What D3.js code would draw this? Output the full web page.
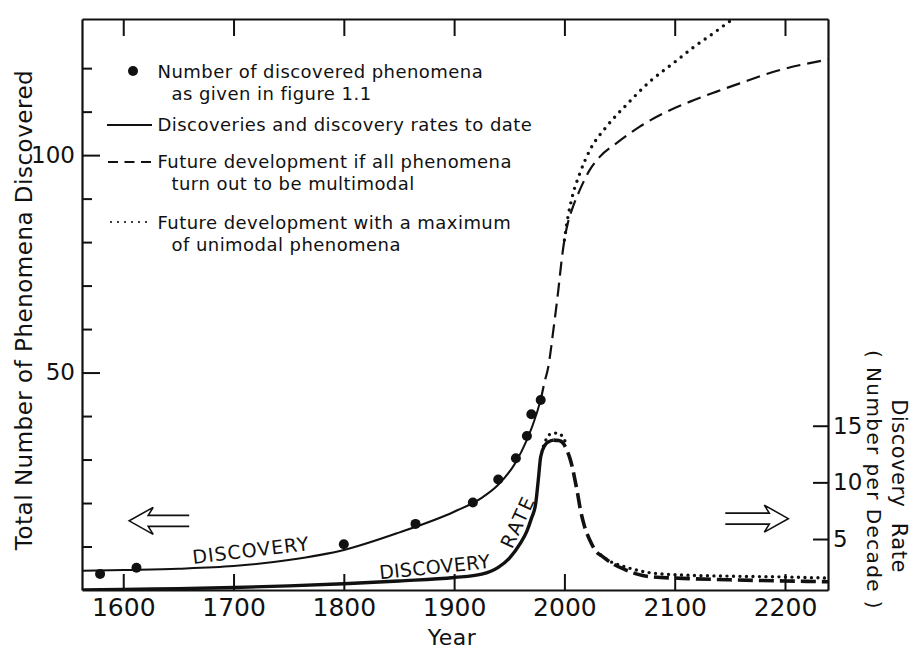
<!DOCTYPE html>
<html>
<head>
<meta charset="utf-8">
<script src="https://cdn.jsdelivr.net/npm/d3@7"></script>
<style>
  html, body { margin: 0; padding: 0; background: #fff; }
  svg { display: block; font-family: "DejaVu Sans", sans-serif; }
  .axis path, .axis line { stroke: #111; }
  .axis text { fill: #111; font-family: "DejaVu Sans", sans-serif; }
</style>
</head>
<body>
<svg id="chart" width="913" height="650"></svg>
<script>
// ---------- tick values ----------
const yearTicks  = [1600, 1700, 1800, 1900, 2000, 2100, 2200];
const countTicks = [10, 20, 30, 40, 50, 60, 70, 80, 90, 100, 110, 120];
const countLabelled = [50, 100];
const rateTicks  = [5, 10, 15];

// ---------- observed totals (figure 1.1) ----------
const obsYears  = [1579, 1612, 1800, 1865, 1917, 1940, 1956, 1966, 1970, 1978.5];
const obsCounts = [3.7, 5.1, 10.5, 15.2, 20.1, 25.4, 30.3, 35.4, 40.4, 43.7];

// ---------- cumulative discoveries to date ----------
const cumYears  = [1563, 1600, 1650, 1700, 1750, 1800, 1850, 1900, 1925, 1940, 1955, 1966, 1975, 1978.5];
const cumCounts = [4.4, 4.6, 4.9, 5.5, 6.9, 9.2, 13.2, 18.0, 21.2, 24.2, 29, 34.5, 40.7, 43.7];

// ---------- cumulative, all phenomena multimodal ----------
const multiYears  = [1978.5, 1982, 1985.4, 1990, 1994.5, 1997.5, 2000, 2003, 2007, 2014, 2023, 2032, 2047, 2068, 2093, 2114, 2138, 2159, 2189, 2239];
const multiCounts = [43.7, 47.8, 51.3, 59.8, 69, 75.9, 80.5, 84.3, 87.6, 92, 96.6, 99.6, 102.7, 106.5, 110, 112.3, 114.6, 116.5, 119.1, 122];

// ---------- cumulative, maximum of unimodal phenomena ----------
const uniYears  = [2000, 2003, 2007, 2014, 2023, 2038, 2056, 2077, 2100, 2117, 2135, 2150, 2160];
const uniCounts = [80.5, 85.5, 90.3, 95.8, 101.1, 106.5, 111.5, 116.8, 121.4, 124.8, 128, 130.8, 132.5];

// ---------- discovery rate (number per decade) to date ----------
const rateYears  = [1563, 1600, 1650, 1700, 1750, 1800, 1850, 1900, 1925, 1940, 1950, 1960, 1966, 1970, 1974, 1976.3, 1978.5, 1982.4, 1986, 1990];
const rateValues = [0.5, 0.55, 0.62, 0.72, 0.86, 1.05, 1.3, 1.6, 1.9, 2.5, 3.3, 4.62, 5.7, 6.8, 8.15, 10.2, 12.26, 13.29, 13.6, 13.73];

// ---------- discovery rate, multimodal future ----------
const rateMultiYears  = [1990, 1995, 1999, 2002, 2005, 2007.5, 2009.6, 2012, 2014, 2018, 2023, 2028, 2035, 2045, 2056, 2066, 2078, 2107, 2150, 2200, 2239];
const rateMultiValues = [13.73, 13.7, 13.44, 12.9, 12.12, 11.2, 10.2, 9.0, 7.85, 6.2, 4.91, 4.0, 3.43, 2.75, 2.26, 1.9, 1.67, 1.53, 1.4, 1.3, 1.23];

// ---------- discovery rate, unimodal future (peak and tail) ----------
const rateUniPeakYears  = [1981, 1984, 1988, 1993, 1998, 2001.5];
const rateUniPeakValues = [13.2, 13.9, 14.3, 14.35, 14.1, 13.4];
const rateUniTailYears  = [2033, 2040, 2050, 2060, 2078, 2107, 2150, 2200, 2239];
const rateUniTailValues = [3.6, 3.1, 2.7, 2.4, 2.02, 1.82, 1.72, 1.65, 1.55];

// ---------- texts ----------
const legendTexts = [
  ["Number of discovered phenomena", "as given in figure 1.1"],
  ["Discoveries and discovery rates to date"],
  ["Future development if all phenomena", "turn out to be multimodal"],
  ["Future development with a maximum", "of unimodal phenomena"]
];
const xTitle = "Year";
const yTitle = "Total Number of Phenomena Discovered";
const rTitle = ["Discovery Rate", "( Number per Decade )"];

// ---------- scales ----------
const L = 82, R = 828, T = 19, B = 590;
const x = d3.scaleLinear().domain([1562.6, 2239]).range([L, R]);
const y = d3.scaleLinear().domain([0, 131.3]).range([B, T]);
const r = d3.scaleLinear().domain([0.5, 50.9]).range([B, T]);

const svg = d3.select("#chart");
const ink = "#111";

const pairs = (a, b) => a.map((v, i) => [v, b[i]]);

svg.append("defs").append("clipPath").attr("id", "plot")
  .append("rect").attr("x", L).attr("y", T).attr("width", R - L).attr("height", B - T);

// ---------- axes (the four axes form the frame) ----------
const gx = svg.append("g").attr("class", "axis").attr("transform", `translate(0,${B})`)
  .call(d3.axisBottom(x).tickValues(yearTicks).tickSize(-16).tickSizeOuter(0).tickPadding(8).tickFormat(d3.format("d")));
gx.selectAll("text").attr("font-size", 25);

svg.append("g").attr("class", "axis").attr("transform", `translate(0,${T})`)
  .call(d3.axisTop(x).tickValues(yearTicks).tickSize(-17).tickSizeOuter(0).tickFormat(""));

const gy = svg.append("g").attr("class", "axis").attr("transform", `translate(${L},0)`)
  .call(d3.axisLeft(y).tickValues(countTicks).tickSize(-10).tickSizeOuter(0).tickPadding(7)
    .tickFormat(d => countLabelled.includes(d) ? d : ""));
gy.selectAll(".tick line").filter(d => countLabelled.includes(d)).attr("x2", 18);
gy.selectAll("text").attr("font-size", 23);

const gr = svg.append("g").attr("class", "axis").attr("transform", `translate(${R},0)`)
  .call(d3.axisRight(r).tickValues(rateTicks).tickSize(-15).tickSizeOuter(0).tickPadding(5));
gr.selectAll("text").attr("font-size", 23);

svg.selectAll(".axis path.domain").attr("stroke-width", 2.2);
svg.selectAll(".axis .tick line").attr("stroke-width", 2);

// ---------- axis titles ----------
svg.append("text").attr("x", 452).attr("y", 645).attr("text-anchor", "middle")
  .attr("font-size", 22).attr("letter-spacing", 0.5).attr("fill", ink).text(xTitle);

svg.append("text").attr("transform", "translate(31.5,310) rotate(-90)").attr("text-anchor", "middle")
  .attr("font-size", 23).attr("letter-spacing", 0.5).attr("fill", ink).text(yTitle);

svg.append("text").attr("transform", "translate(892,486) rotate(90)").attr("text-anchor", "middle")
  .attr("font-size", 21).attr("letter-spacing", 0.5).attr("word-spacing", 8).attr("fill", ink).text(rTitle[0]);
svg.append("text").attr("transform", "translate(866.5,480) rotate(90)").attr("text-anchor", "middle")
  .attr("font-size", 20).attr("letter-spacing", 1.4).attr("fill", ink).text(rTitle[1]);

// ---------- curves ----------
const plot = svg.append("g").attr("clip-path", "url(#plot)");
const lineN = d3.line().x(d => x(d[0])).y(d => y(d[1])).curve(d3.curveMonotoneX);
const lineR = d3.line().x(d => x(d[0])).y(d => r(d[1])).curve(d3.curveMonotoneX);

function curve(gen, data, width, dash, cap) {
  plot.append("path").attr("d", gen(data)).attr("fill", "none").attr("stroke", ink)
    .attr("stroke-width", width).attr("stroke-dasharray", dash || null)
    .attr("stroke-linecap", cap || "butt").attr("stroke-linejoin", "round");
}

// totals
curve(lineN, pairs(cumYears, cumCounts), 2);
curve(lineN, pairs(multiYears, multiCounts), 2.2, "14 7");
curve(lineN, pairs(uniYears, uniCounts), 3.4, "0 7.5", "round");

// rates
curve(lineR, pairs(rateYears, rateValues), 3.4);
curve(lineR, pairs(rateMultiYears, rateMultiValues), 3.6, "15 6");
curve(lineR, pairs(rateUniPeakYears, rateUniPeakValues), 3.4, "0 6.5", "round");
curve(lineR, pairs(rateUniTailYears, rateUniTailValues), 3.4, "0 6.5", "round");

// observed points
plot.selectAll("circle.obs").data(pairs(obsYears, obsCounts)).join("circle")
  .attr("class", "obs").attr("cx", d => x(d[0])).attr("cy", d => y(d[1])).attr("r", 5).attr("fill", ink);

// ---------- curve labels ----------
function tag(px, py, angle, txt, size, spacing) {
  svg.append("text").attr("transform", `translate(${px},${py}) rotate(${angle})`)
    .attr("font-size", size).attr("letter-spacing", spacing).attr("fill", ink).text(txt);
}
tag(x(1663.5), y(6.0), -6.8, "DISCOVERY", 19, 1);
tag(x(1832.7), r(1.44), -5.9, "DISCOVERY", 19, 0.3);
svg.append("text").attr("transform", `translate(${x(1957.6)},${r(6.54)}) rotate(-65)`)
  .attr("text-anchor", "middle").attr("dy", "0.36em").attr("font-size", 19)
  .attr("letter-spacing", 2).attr("fill", ink).text("RATE");

// ---------- hollow arrows marking which axis each curve uses ----------
function hollowArrow(tipX, tipY, dir, len) {
  const s = -dir;
  const pts = [[len, -5.5], [19, -5.5], [24, -13.5], [0, 0], [24, 13.5], [19, 5.5], [len, 5.5]];
  svg.append("path")
    .attr("d", "M" + pts.map(p => [tipX + s * p[0], tipY + p[1]].join(",")).join("L"))
    .attr("fill", "none").attr("stroke", ink).attr("stroke-width", 1.6).attr("stroke-linejoin", "miter");
}
hollowArrow(x(1605.4), y(15.9), -1, 60);
hollowArrow(x(2203), r(6.8), 1, 63);

// ---------- legend ----------
const legend = svg.append("g").attr("fill", ink).attr("font-size", 18).attr("letter-spacing", 0.45);
const rowBase = [78, 131, 168, 229];
const textX = 157.5, contX = 171.5, lead = 21.5;
legendTexts.forEach((lines, i) => {
  lines.forEach((t, j) => {
    legend.append("text").attr("x", j ? contX : textX).attr("y", rowBase[i] + j * lead).text(t);
  });
});
legend.append("circle").attr("cx", 133).attr("cy", rowBase[0] - 7).attr("r", 5).attr("fill", ink);
legend.append("line").attr("x1", 107).attr("x2", 152).attr("y1", rowBase[1] - 6).attr("y2", rowBase[1] - 6)
  .attr("stroke", ink).attr("stroke-width", 1.8);
legend.append("line").attr("x1", 108).attr("x2", 151).attr("y1", rowBase[2] - 6).attr("y2", rowBase[2] - 6)
  .attr("stroke", ink).attr("stroke-width", 1.8).attr("stroke-dasharray", "10 6.5");
legend.append("line").attr("x1", 111).attr("x2", 152).attr("y1", rowBase[3] - 7).attr("y2", rowBase[3] - 7)
  .attr("stroke", ink).attr("stroke-width", 2.2).attr("stroke-dasharray", "0 7").attr("stroke-linecap", "round");
</script>
</body>
</html>
